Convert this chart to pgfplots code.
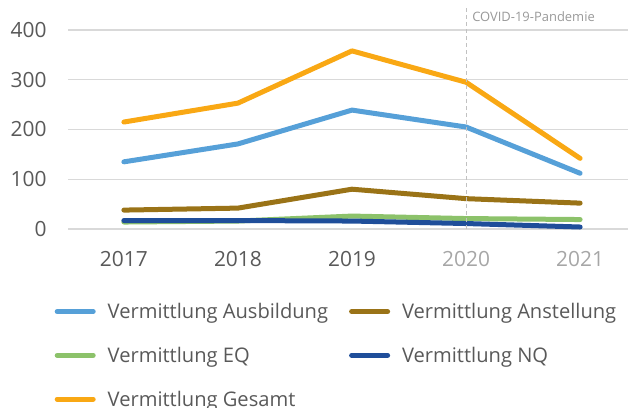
\documentclass[border=0pt]{standalone}
\usepackage{fontspec}
\setmainfont{Open Sans}
\usepackage{pgfplots}
\pgfplotsset{compat=1.18}
\definecolor{cAus}{HTML}{56A0D8}
\definecolor{cAns}{HTML}{9A7317}
\definecolor{cEQ}{HTML}{8CC26A}
\definecolor{cNQ}{HTML}{1F4E9A}
\definecolor{cGes}{HTML}{F9A814}
\definecolor{gridgrey}{HTML}{D9D9D9}
\definecolor{ticktext}{HTML}{595959}
\definecolor{lighttext}{HTML}{A6A6A6}
\definecolor{covidtext}{HTML}{999999}
\begin{document}
\begin{tikzpicture}[x=1bp,y=1bp]
\useasboundingbox (0,0) rectangle (628,407);
\begin{axis}[
  at={(68bp,178bp)}, anchor=south west,
  scale only axis, width=560bp, height=221.4bp,
  xmin=-0.49, xmax=4.42, ymin=0, ymax=445,
  xtick={0,1,2,3,4},
  xticklabels={2017,2018,2019,\textcolor{lighttext}{2020},\textcolor{lighttext}{2021}},
  ytick={0,100,200,300,400},
  ymajorgrids, grid style={line width=1.3bp, gridgrey},
  axis line style={draw=none}, major tick length=0pt,
  /pgf/number format/assume math mode=true,
  yticklabel style={font=\fontsize{21}{24}\selectfont, text=ticktext, anchor=east, xshift=-18bp},
  xticklabel style={font=\fontsize{21}{24}\selectfont, text=ticktext, anchor=north, yshift=-19bp},
  clip=false,
  every axis plot/.append style={line width=5bp, line cap=round, line join=round},
  legend columns=2,
  legend style={at={(-0.0241,-0.334)}, anchor=north west, draw=none, fill=none,
    inner sep=0pt, font=\fontsize{20.2}{24}\selectfont, text=ticktext,
    nodes={inner ysep=0pt, inner xsep=0pt},
    row sep=27bp, column sep=0pt,
    /tikz/every even column/.append style={column sep=21bp}},
  legend image code/.code={\draw[#1] (0bp,0bp) -- (36bp,0bp); \path (48bp,0bp);},
  legend cell align=left,
]
\addplot[cAus] coordinates {(0,135) (1,171) (2,239) (3,205) (4,112)};
\addlegendentry{Vermittlung Ausbildung}
\addplot[cAns] coordinates {(0,38) (1,42) (2,80) (3,61) (4,52)};
\addlegendentry{Vermittlung Anstellung}
\addplot[cEQ] coordinates {(0,14) (1,16) (2,26) (3,21) (4,19)};
\addlegendentry{Vermittlung EQ}
\addplot[cNQ] coordinates {(0,17) (1,17) (2,16) (3,11) (4,4)};
\addlegendentry{Vermittlung NQ}
\addplot[cGes] coordinates {(0,215) (1,253) (2,358) (3,295) (4,142)};
\addlegendentry{Vermittlung Gesamt}
\draw[lighttext!70, line width=0.8bp, dash pattern=on 4bp off 3bp] (axis cs:3,0) -- (axis cs:3,445);
\node[anchor=west, inner sep=0pt, xshift=6bp, text=covidtext, font=\fontsize{13}{15}\selectfont] at (axis cs:3,426) {COVID-19-Pandemie};
\end{axis}
\end{tikzpicture}
\end{document}
